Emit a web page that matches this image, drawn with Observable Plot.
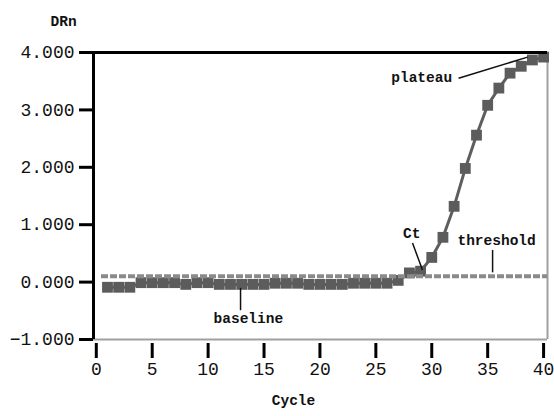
<!DOCTYPE html>
<html><head><meta charset="utf-8">
<script src="https://cdn.jsdelivr.net/npm/d3@7"></script>
<script src="https://cdn.jsdelivr.net/npm/@observablehq/plot@0.6"></script>
<style>body{margin:0;background:#fff}</style>
</head><body><div id="chart"></div>
<script>
const cycles = [1,2,3,4,5,6,7,8,9,10,11,12,13,14,15,16,17,18,19,20,21,22,23,24,25,26,27,28,29,30,31,32,33,34,35,36,37,38,39,40];
const drn = [-0.09,-0.09,-0.09,-0.01,-0.01,-0.01,-0.01,-0.04,-0.01,-0.01,-0.04,-0.04,-0.04,-0.04,-0.04,-0.02,-0.02,-0.02,-0.04,-0.04,-0.04,-0.04,-0.02,-0.02,-0.02,-0.02,0.03,0.16,0.19,0.43,0.78,1.32,1.98,2.56,3.08,3.38,3.64,3.76,3.87,3.92];
const threshold = [0.1];
const xDomain = [-0.25, 40.35];
const yDomain = [-1, 4];
const xTicks = [0,5,10,15,20,25,30,35,40];
const yTicks = [-1,0,1,2,3,4];
const annoLabels = ["plateau","Ct","threshold","baseline"];
const annoTextX = [29.1, 28.2, 35.8, 13.6];
const annoTextY = [3.57, 0.85, 0.73, -0.63];
const leadX1 = [32.4, 28.28, 35.44, 12.9];
const leadY1 = [3.55, 0.68, 0.56, -0.10];
const leadX2 = [38.57, 29.17, 35.44, 12.9];
const leadY2 = [3.92, 0.21, 0.17, -0.49];

const data = cycles.map((c,i)=>({cycle:c, drn:drn[i]}));
const anno = annoLabels.map((t,i)=>({text:t, x:annoTextX[i], y:annoTextY[i],
  x1:leadX1[i], y1:leadY1[i], x2:leadX2[i], y2:leadY2[i]}));

const mono = "'Liberation Mono', 'DejaVu Sans Mono', monospace";

const chart = Plot.plot({
  width: 554, height: 416,
  marginLeft: 93, marginRight: 7, marginTop: 52, marginBottom: 77,
  style: {fontFamily: mono, background: "#fff"},
  x: {domain: xDomain},
  y: {domain: yDomain},
  marks: [
    Plot.ruleY([yDomain[0]], {stroke: "#a0a0a0", strokeWidth: 2}),
    Plot.ruleX([xDomain[1]], {stroke: "#a0a0a0", strokeWidth: 2}),
    Plot.line(data, {x: "cycle", y: "drn", stroke: "#5e5e5e", strokeWidth: 3}),
    Plot.dot(data, {x: "cycle", y: "drn", symbol: "square", r: 6.1, fill: "#5c5c5c", stroke: "none"}),
    Plot.ruleY(threshold, {stroke: "#8a8a8a", strokeWidth: 4, strokeDasharray: "7,2", insetLeft: 8}),
    Plot.link(anno, {x1: "x1", y1: "y1", x2: "x2", y2: "y2", stroke: "#111", strokeWidth: 1.5}),
    Plot.text(anno, {x: "x", y: "y", text: "text", fontSize: 14.5, fontWeight: "bold", fill: "#111"}),
    Plot.ruleY([yDomain[1]], {stroke: "#000", strokeWidth: 3}),
    Plot.ruleX([xDomain[0]], {stroke: "#000", strokeWidth: 3}),
    Plot.axisY(yTicks, {tickSize: 14, strokeWidth: 3, tickPadding: 5, tickFormat: d3.format(".3f"), fontSize: 18, label: null, fill: "#111"}),
    Plot.axisX(xTicks, {tickSize: 15, dy: 4, strokeWidth: 3, tickPadding: 4, fontSize: 18, label: null, fill: "#111"}),
    Plot.text(["DRn"], {frameAnchor: "top-left", dx: -43, dy: -37, fontSize: 14.5, fontWeight: "bold", fill: "#111"}),
    Plot.text(["Cycle"], {frameAnchor: "bottom", dx: -27, dy: 65, fontSize: 14.5, fontWeight: "bold", fill: "#111"})
  ]
});
document.getElementById("chart").appendChild(chart);
</script>
</body></html>
